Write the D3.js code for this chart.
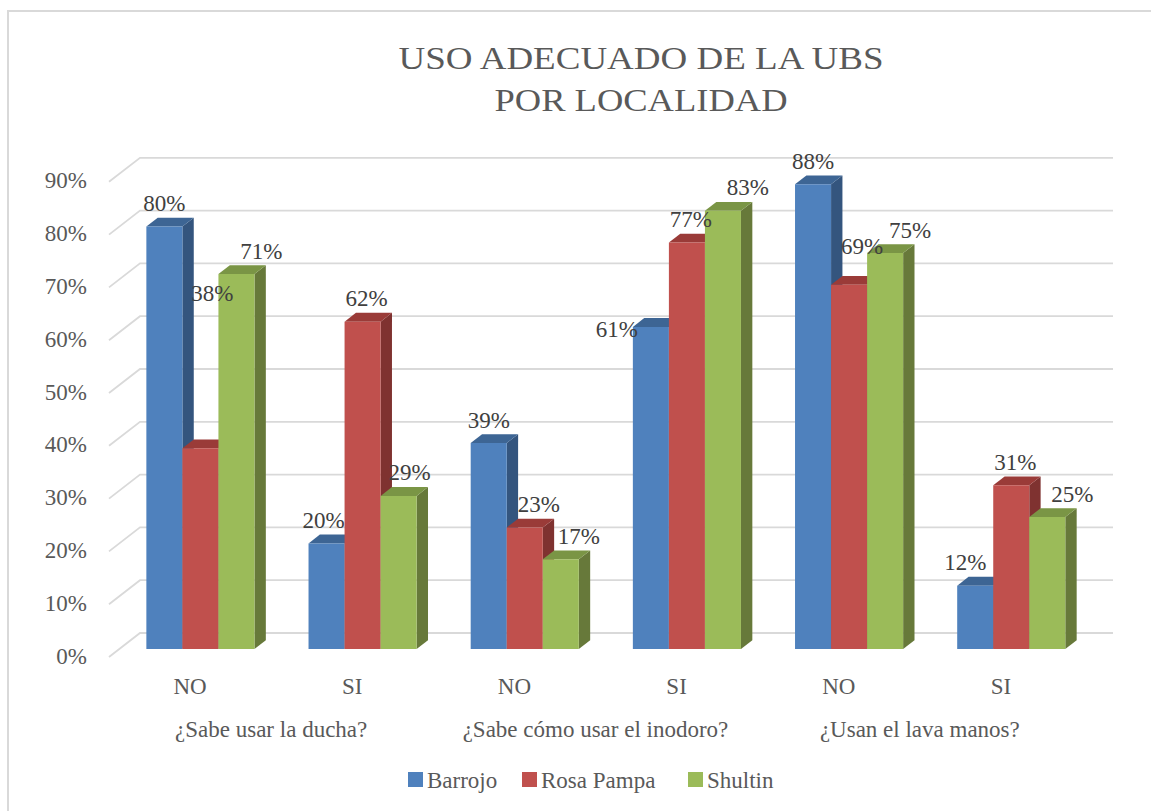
<!DOCTYPE html>
<html lang="es">
<head>
<meta charset="UTF-8">
<title>Uso adecuado de la UBS por localidad</title>
<script src="https://d3js.org/d3.v7.min.js"></script>
<style>
    body { margin: 0; background: #fff; }
</style>
</head>
<body>
<div id="chart"></div>
<script>
    // data
    const categories = ["NO", "SI", "NO", "SI", "NO", "SI"];
    const groups = ["¿Sabe usar la ducha?", "¿Sabe cómo usar el inodoro?", "¿Usan el lava manos?"];
    const series = ["Barrojo", "Rosa Pampa", "Shultin"];
    const barrojo = [0.80, 0.20, 0.39, 0.61, 0.88, 0.12];
    const rosaPampa = [0.38, 0.62, 0.23, 0.77, 0.69, 0.31];
    const shultin = [0.71, 0.29, 0.17, 0.83, 0.75, 0.25];
    const yTicks = [0, 0.1, 0.2, 0.3, 0.4, 0.5, 0.6, 0.7, 0.8, 0.9];
    const titleLines = ["USO ADECUADO DE LA UBS", "POR LOCALIDAD"];

    const values = [barrojo, rosaPampa, shultin];
    const width = 1151, height = 811;
    const fontFamily = "Liberation Serif, Tinos, Times New Roman, Times, Nimbus Roman, FreeSerif, Noto Serif, DejaVu Serif, serif";
    const fontSize = 23;

    // colours: front, side, top
    const faces = [
        { front: "#4f81bd", side: "#34557e", top: "#3d6594" },
        { front: "#c0504d", side: "#7f3230", top: "#9a3b38" },
        { front: "#9bbb59", side: "#67793a", top: "#7a9545" }
    ];
    // label placement like excel's 3D layout (series shift + a few moved labels)
    const labelShift = [0, 4, 25];
    const labelNudge = {
        "1-0": [12, -132], "1-4": [13, -15], "1-2": [14, 0], "0-5": [-10, 0],
        "0-3": [-34, 26], "2-1": [11, 0], "2-2": [18, 0], "0-1": [-3, 0]
    };

    // depth projection of the 3D box
    const DX = 31, DY = 24;
    const barFront = 1 / 3, barBack = 0.7;

    const svg = d3.select("#chart").append("svg")
        .attr("width", width)
        .attr("height", height)
        .style("font-family", fontFamily);

    svg.append("rect")
        .attr("x", 8).attr("y", 11)
        .attr("width", 1400).attr("height", 1000)
        .attr("fill", "#fff")
        .attr("stroke", "#d9d9d9")
        .attr("stroke-width", 2);

    const x0 = d3.scaleBand()
        .domain(d3.range(categories.length))
        .range([109, 1082])
        .paddingInner(1 / 3)
        .paddingOuter(1 / 6);

    const x1 = d3.scaleBand()
        .domain(d3.range(series.length))
        .range([0, x0.bandwidth()]);

    const y = d3.scaleLinear()
        .domain([0, 0.9])
        .range([657, 657 - 475.2]);

    const proj = (x, v, d) => [x + DX * d, y(v) - DY * d];

    // gridlines: left wall diagonal + back wall line
    const grid = svg.append("g");
    yTicks.forEach(t => {
        const a = proj(109, t, 0), b = proj(109, t, 1), c = proj(1082, t, 1);
        grid.append("path")
            .attr("d", d3.line()([a, b, c]))
            .attr("fill", "none")
            .attr("stroke", "#d9d9d9")
            .attr("stroke-width", 1.8);
    });

    // y tick labels
    svg.append("g").selectAll("text")
        .data(yTicks)
        .join("text")
        .attr("x", 87)
        .attr("y", d => y(d) - 1)
        .attr("text-anchor", "end")
        .attr("dominant-baseline", "central")
        .attr("font-size", fontSize)
        .attr("fill", "#595959")
        .text(d3.format(".0%"));

    // bars
    const bars = svg.append("g");
    const labels = [];
    categories.forEach((cat, ci) => {
        series.forEach((s, si) => {
            const v = values[si][ci];
            const xl = x0(ci) + x1(si), xr = xl + x1.bandwidth();
            const fbl = proj(xl, 0, barFront), ftl = proj(xl, v, barFront);
            const ftr = proj(xr, v, barFront), fbr = proj(xr, 0, barFront);
            const btl = proj(xl, v, barBack), btr = proj(xr, v, barBack), bbr = proj(xr, 0, barBack);
            const c = faces[si];
            bars.append("path")
                .attr("d", d3.line()([fbr, ftr, btr, bbr]) + "Z")
                .attr("fill", c.side);
            bars.append("path")
                .attr("d", d3.line()([ftl, ftr, btr, btl]) + "Z")
                .attr("fill", c.top);
            bars.append("path")
                .attr("d", d3.line()([fbl, ftl, ftr, fbr]) + "Z")
                .attr("fill", c.front);
            const n = labelNudge[si + "-" + ci];
            labels.push({
                x: (ftl[0] + ftr[0]) / 2 + (n ? n[0] : labelShift[si]),
                y: ftl[1] - 23 + (n ? n[1] : 0),
                v
            });
        });
    });

    // data labels
    svg.append("g").selectAll("text")
        .data(labels)
        .join("text")
        .attr("x", d => d.x)
        .attr("y", d => d.y)
        .attr("text-anchor", "middle")
        .attr("dominant-baseline", "central")
        .attr("font-size", fontSize)
        .attr("fill", "#404040")
        .text(d => d3.format(".0%")(d.v));

    // category labels
    svg.append("g").selectAll("text")
        .data(categories)
        .join("text")
        .attr("x", (d, i) => x0(i) + x0.bandwidth() / 2)
        .attr("y", 686)
        .attr("text-anchor", "middle")
        .attr("dominant-baseline", "central")
        .attr("font-size", fontSize)
        .attr("fill", "#595959")
        .text(d => d);

    svg.append("g").selectAll("text")
        .data(groups)
        .join("text")
        .attr("x", (d, i) => (x0(2 * i) + x0(2 * i + 1) + x0.bandwidth()) / 2)
        .attr("y", 729)
        .attr("text-anchor", "middle")
        .attr("dominant-baseline", "central")
        .attr("font-size", fontSize)
        .attr("fill", "#595959")
        .text(d => d);

    // title (slightly wide lettering, as in the original)
    const titleWidths = [485, 293];
    svg.append("g").selectAll("text")
        .data(titleLines)
        .join("text")
        .attr("x", 641)
        .attr("y", (d, i) => 69 + i * 42)
        .attr("text-anchor", "middle")
        .attr("font-size", 32)
        .attr("fill", "#595959")
        .attr("textLength", (d, i) => titleWidths[i])
        .attr("lengthAdjust", "spacingAndGlyphs")
        .text(d => d);

    // legend
    const legendX = [408, 522, 688];
    const legend = svg.append("g").selectAll("g")
        .data(series)
        .join("g")
        .attr("transform", (d, i) => `translate(${legendX[i]}, 772)`);
    legend.append("rect")
        .attr("width", 15).attr("height", 15)
        .attr("fill", (d, i) => faces[i].front);
    legend.append("text")
        .attr("x", 19)
        .attr("y", 8)
        .attr("dominant-baseline", "central")
        .attr("font-size", fontSize)
        .attr("fill", "#595959")
        .text(d => d);
</script>
</body>
</html>
